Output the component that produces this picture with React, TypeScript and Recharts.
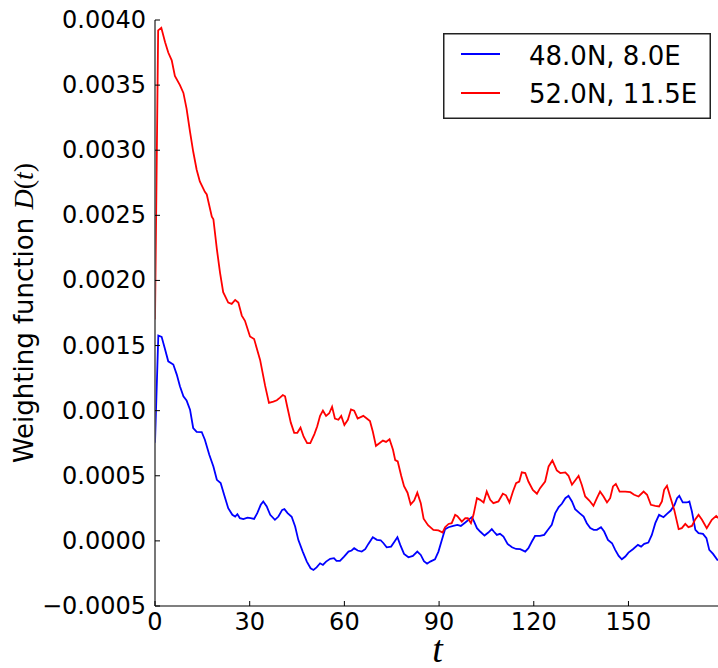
import React from 'react';
import { LineChart, Line, XAxis, YAxis } from 'recharts';

const xTicks = [0, 30, 60, 90, 120, 150];
const yTicks = [-0.0005, 0, 0.0005, 0.001, 0.0015, 0.002, 0.0025, 0.003, 0.0035, 0.004];
const seriesNames = ['48.0N, 8.0E', '52.0N, 11.5E'];

const blueT = [0, 1.05, 2.1, 3.2, 4.2, 5.8, 6.9, 7.9, 9.0, 10.0, 11.1, 12.1, 13.2, 14.8, 15.8, 17.2, 18.5, 19.6, 20.8, 21.9, 23.2, 24.5, 25.4, 26.1, 26.9, 28.0, 29.3, 30.3, 31.4, 32.4, 33.5, 34.3, 35.4, 36.5, 38.0, 39.1, 40.3, 41.0, 42.0, 43.3, 44.4, 45.4, 46.8, 48.1, 49.3, 50.2, 51.2, 52.3, 53.2, 54.2, 55.5, 56.7, 57.5, 58.6, 59.9, 61.3, 62.3, 63.1, 64.2, 65.5, 66.6, 67.6, 69.0, 70.3, 71.5, 72.4, 73.4, 74.8, 75.9, 76.8, 77.7, 78.9, 80.3, 81.7, 83.1, 84.2, 85.2, 86.2, 87.2, 88.7, 89.8, 90.9, 91.9, 93.0, 94.5, 95.8, 96.9, 98.3, 99.6, 100.4, 101.1, 102.0, 103.0, 104.4, 105.6, 106.7, 107.4, 108.3, 109.3, 110.4, 111.7, 113.1, 114.4, 115.7, 117.3, 118.3, 119.4, 120.4, 122.0, 123.3, 124.5, 125.7, 126.8, 127.9, 128.9, 130.0, 131.0, 132.1, 133.1, 134.5, 135.8, 136.8, 137.9, 139.0, 140.0, 141.3, 142.3, 143.5, 144.8, 145.8, 146.9, 147.9, 149.0, 150.0, 151.4, 153.0, 154.0, 155.0, 156.3, 157.4, 158.5, 159.7, 161.1, 162.2, 163.4, 164.6, 165.4, 166.1, 167.2, 168.5, 169.3, 170.1, 171.2, 172.2, 173.6, 174.7, 175.6, 176.8, 178.3];
const blueD = [0.000754, 0.001577, 0.001567, 0.001469, 0.001379, 0.001354, 0.001277, 0.001187, 0.00111, 0.001079, 0.001008, 0.000867, 0.000837, 0.000836, 0.000777, 0.000662, 0.000572, 0.000469, 0.000444, 0.000354, 0.000251, 0.0002, 0.000187, 0.000205, 0.000174, 0.000167, 0.000179, 0.000175, 0.000169, 0.000213, 0.000277, 0.000303, 0.000264, 0.0002, 0.000162, 0.000187, 0.000238, 0.000244, 0.000213, 0.000185, 0.00011, 0.000008, -0.000082, -0.000159, -0.00021, -0.000223, -0.000203, -0.000172, -0.000185, -0.000159, -0.000138, -0.000133, -0.000154, -0.000154, -0.000121, -0.000082, -0.000074, -0.000056, -0.000074, -0.000082, -0.000064, -0.000023, 0.000028, 0.000008, 0.000005, -0.000018, -0.000049, -0.000044, -0.000005, 0.000028, -0.000031, -0.0001, -0.000126, -0.000115, -0.000082, -0.000108, -0.000155, -0.000175, -0.000159, -0.000141, -0.000082, 0.000008, 0.00009, 0.000105, 0.000115, 0.000123, 0.000115, 0.000141, 0.000167, 0.000182, 0.000148, 0.000098, 0.000072, 0.000041, 0.000064, 0.00009, 0.00007, 0.000046, 0.000054, 0.000033, -0.000023, -0.000049, -0.000062, -0.000064, -0.000082, -0.000056, -0.000005, 0.000038, 0.000038, 0.000046, 0.000085, 0.000123, 0.000213, 0.000259, 0.000285, 0.000328, 0.000346, 0.000303, 0.000244, 0.000213, 0.000187, 0.000136, 0.000098, 0.000085, 0.000085, 0.000105, 0.000072, 0.000008, -0.000018, -0.000069, -0.000115, -0.000141, -0.00012, -0.00009, -0.000064, -0.000031, -0.000044, -0.000023, -0.000013, 0.000046, 0.000136, 0.0002, 0.000182, 0.000208, 0.000233, 0.000277, 0.000328, 0.000346, 0.000295, 0.000295, 0.000303, 0.000226, 0.000085, 0.000059, 0.000054, 0.000021, -0.000069, -0.0001, -0.000151];

const redT = [0, 1, 2, 3.2, 4.2, 5.3, 6.3, 7.9, 9.0, 10.0, 11.1, 12.1, 13.2, 14.2, 15.8, 16.4, 18.0, 18.5, 19.6, 20.6, 21.6, 23.2, 24.3, 25.4, 26.4, 27.5, 28.5, 30.1, 31.4, 33.3, 34.9, 36.1, 37.5, 38.6, 39.6, 40.5, 41.2, 41.9, 43.0, 44.1, 45.1, 46.1, 47.1, 48.2, 49.2, 50.5, 51.4, 52.3, 53.2, 54.2, 55.2, 56.1, 57.0, 58.1, 59.0, 60.0, 61.1, 62.1, 63.1, 64.2, 66.0, 67.1, 68.1, 69.0, 70.0, 71.1, 72.2, 73.2, 74.3, 75.4, 76.1, 76.9, 78.0, 78.9, 80.0, 81.0, 82.1, 83.1, 84.2, 85.1, 86.5, 88.2, 89.8, 91.1, 91.9, 93.0, 94.0, 95.1, 95.8, 97.2, 98.3, 99.1, 100.1, 100.9, 102.0, 103.0, 104.1, 105.1, 106.2, 107.2, 108.8, 110.2, 111.2, 112.3, 113.4, 114.4, 115.4, 116.2, 117.3, 118.3, 119.7, 121.0, 122.0, 123.6, 124.7, 125.9, 127.3, 128.4, 130.0, 131.0, 132.1, 133.1, 134.2, 135.2, 136.3, 137.6, 138.9, 140.0, 141.0, 142.1, 143.2, 144.2, 145.1, 146.0, 147.2, 149.0, 150.6, 151.8, 153.2, 154.8, 155.9, 157.1, 158.5, 159.7, 160.6, 161.3, 162.2, 163.2, 164.5, 165.9, 166.9, 168.0, 169.0, 170.1, 171.2, 172.2, 173.3, 174.8, 176.4, 177.8, 178.5];
const redD = [0.0017, 0.00392, 0.00394, 0.00383, 0.00375, 0.00369, 0.00357, 0.0035, 0.00344, 0.00332, 0.00314, 0.00299, 0.00285, 0.00276, 0.00268, 0.00266, 0.00249, 0.00247, 0.00224, 0.00206, 0.00191, 0.00183, 0.00182, 0.00185, 0.00183, 0.00173, 0.00169, 0.00157, 0.00155, 0.00139, 0.00119, 0.00106, 0.00107, 0.00108, 0.0011, 0.00112, 0.00111, 0.00103, 0.00091, 0.00083, 0.00083, 0.00087, 0.0008, 0.00075, 0.00075, 0.00082, 0.00088, 0.00096, 0.001, 0.00096, 0.00098, 0.00103, 0.00094, 0.00093, 0.00096, 0.00089, 0.00093, 0.00101, 0.001, 0.00094, 0.00096, 0.00094, 0.00092, 0.00084, 0.00073, 0.00075, 0.00077, 0.00076, 0.00078, 0.0007, 0.00062, 0.00061, 0.0005, 0.00042, 0.00037, 0.00028, 0.00031, 0.00037, 0.00029, 0.00017, 0.00012, 0.000085, 0.00008, 0.000064, 0.000105, 0.00013, 0.000136, 0.0002, 0.00019, 0.000148, 0.000174, 0.000174, 0.000136, 0.0002, 0.000328, 0.000315, 0.000295, 0.000379, 0.000315, 0.00029, 0.000303, 0.000362, 0.00035, 0.000295, 0.000379, 0.000444, 0.000456, 0.000526, 0.000521, 0.000456, 0.000392, 0.000362, 0.000405, 0.000456, 0.000572, 0.000618, 0.000541, 0.000521, 0.000526, 0.0005, 0.000431, 0.000464, 0.0005, 0.000431, 0.000341, 0.00031, 0.000269, 0.000328, 0.000379, 0.000341, 0.000295, 0.000328, 0.000418, 0.000438, 0.000379, 0.000379, 0.000374, 0.000354, 0.000341, 0.000379, 0.000354, 0.000277, 0.000269, 0.000264, 0.000303, 0.000392, 0.000423, 0.000341, 0.000238, 0.00009, 0.000098, 0.000131, 0.000105, 0.000115, 0.000167, 0.0002, 0.000162, 0.000098, 0.000162, 0.000192, 0.000174];

const blueData = blueT.map((t, i) => ({ t, d: blueD[i] }));
const redData = redT.map((t, i) => ({ t, d: redD[i] }));

const FONT = 'DejaVu Sans';
const TICK_LEN = 5;

const fmtY = (v: number) => {
  const s = Math.abs(v) < 1e-12 ? '0.0000' : v.toFixed(4);
  return s.replace('-', '\u2212');
};

const YTick = (props: any) => {
  const { x, y, payload } = props;
  return (
    <g>
      <line x1={x} y1={y} x2={x + TICK_LEN} y2={y} stroke="#000" strokeWidth={1} />
      <text x={x - 9} y={y} textAnchor="end" dominantBaseline="central" fontFamily={FONT} fontSize={24} fill="#000">
        {fmtY(payload.value)}
      </text>
    </g>
  );
};

const XTick = (props: any) => {
  const { x, y, payload } = props;
  return (
    <g>
      <line x1={x} y1={y} x2={x} y2={y - TICK_LEN} stroke="#000" strokeWidth={1} />
      <text x={x} y={y + 24} textAnchor="middle" fontFamily={FONT} fontSize={24} fill="#000">
        {payload.value}
      </text>
    </g>
  );
};

const TopTick = (props: any) => {
  const { x, y } = props;
  return <line x1={x} y1={y} x2={x} y2={y + TICK_LEN} stroke="#000" strokeWidth={1} />;
};

const YLabel = (props: any) => {
  const vb = props.viewBox || { x: 0, y: 20, width: 155, height: 586 };
  const cx = vb.x + 33;
  const cy = vb.y + vb.height / 2;
  return (
    <text x={cx} y={cy} textAnchor="middle" transform={`rotate(-90 ${cx} ${cy})`} fontFamily={FONT} fontSize={26} fill="#000">
      Weighting function{' '}
      <tspan fontFamily="Liberation Serif" fontStyle="italic" fontSize={28}>D</tspan>
      <tspan fontFamily="Liberation Serif" fontSize={28}>(</tspan>
      <tspan fontFamily="Liberation Serif" fontStyle="italic" fontSize={28}>t</tspan>
      <tspan fontFamily="Liberation Serif" fontSize={28}>)</tspan>
    </text>
  );
};

const XLabel = (props: any) => {
  const vb = props.viewBox || { x: 155, y: 606, width: 565, height: 62 };
  return (
    <text x={vb.x + vb.width / 2} y={vb.y + 56} textAnchor="middle" fontFamily="Liberation Serif" fontStyle="italic" fontSize={38} fill="#000">
      t
    </text>
  );
};

const LegendBox = () => (
  <svg width={268} height={86} style={{ display: 'block', position: 'absolute', left: 443, top: 33 }}>
    <rect x={0.75} y={0.75} width={266.5} height={84.5} fill="#fff" stroke="#222" strokeWidth={1.5} />
    <line x1={18} y1={21} x2={57} y2={21} stroke="#0000ff" strokeWidth={1.8} />
    <text x={86} y={32} fontFamily={FONT} fontSize={26} fill="#000">{seriesNames[0]}</text>
    <line x1={18} y1={60} x2={57} y2={60} stroke="#ff0000" strokeWidth={1.8} />
    <text x={86} y={70} fontFamily={FONT} fontSize={26} fill="#000">{seriesNames[1]}</text>
  </svg>
);

export default function App() {
  return (
    <div style={{ position: 'absolute', left: 0, top: 0, width: 718, height: 668, overflow: 'hidden', background: '#fff' }}>
      <LineChart width={730} height={668} margin={{ top: 20, right: 10, bottom: 0, left: 0 }}>
        <XAxis
          xAxisId="main"
          dataKey="t"
          type="number"
          domain={[0, 179]}
          allowDataOverflow
          ticks={xTicks}
          interval={0}
          height={62}
          tickSize={0}
          tickMargin={0}
          tickLine={false}
          axisLine={{ stroke: '#555', strokeWidth: 1.6 }}
          tick={<XTick />}
          label={<XLabel />}
        />
        <XAxis
          xAxisId="top"
          orientation="top"
          dataKey="t"
          type="number"
          domain={[0, 179]}
          allowDataOverflow
          ticks={xTicks}
          interval={0}
          height={0}
          tickSize={0}
          tickMargin={0}
          tickLine={false}
          axisLine={{ stroke: '#555', strokeWidth: 1.6 }}
          tick={<TopTick />}
        />
        <YAxis
          yAxisId="main"
          type="number"
          domain={[-0.0005, 0.004]}
          allowDataOverflow
          ticks={yTicks}
          interval={0}
          width={155}
          tickSize={0}
          tickMargin={0}
          tickLine={false}
          axisLine={{ stroke: '#555', strokeWidth: 1.6 }}
          tick={<YTick />}
          label={<YLabel />}
        />
        <Line
          xAxisId="main"
          yAxisId="main"
          data={blueData}
          dataKey="d"
          name={seriesNames[0]}
          stroke="#0000ff"
          strokeWidth={1.8}
          dot={false}
          type="linear"
          isAnimationActive={false}
        />
        <Line
          xAxisId="main"
          yAxisId="main"
          data={redData}
          dataKey="d"
          name={seriesNames[1]}
          stroke="#ff0000"
          strokeWidth={1.8}
          dot={false}
          type="linear"
          isAnimationActive={false}
        />
      </LineChart>
      <LegendBox />
    </div>
  );
}
